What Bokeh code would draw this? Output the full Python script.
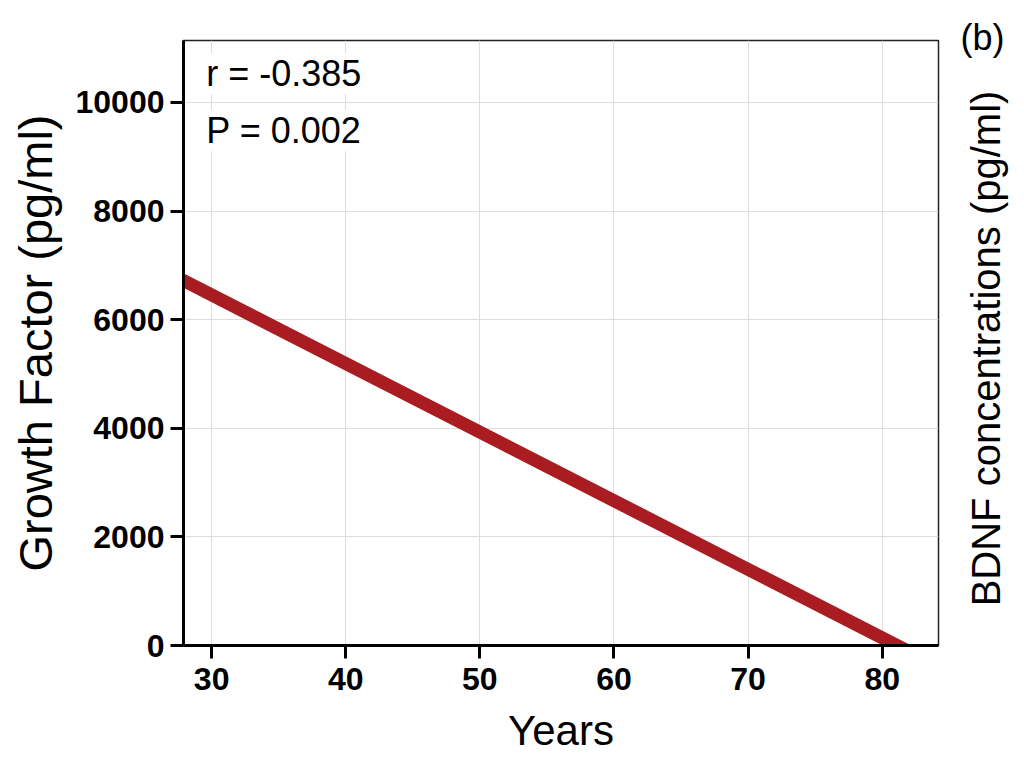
import math
from bokeh.plotting import figure
from bokeh.layouts import row
from bokeh.models import FixedTicker, Label, Range1d, Title
from bokeh.embed import file_html
from bokeh.resources import INLINE

# ---- data ----
line_years = [26.0, 84.0]          # regression line end points (clipped by the axes)
line_bdnf = [6960, -365]
x_ticks = [30, 40, 50, 60, 70, 80]
y_ticks = [0, 2000, 4000, 6000, 8000, 10000]
stat_r = "r = -0.385"
stat_p = "P = 0.002"
stat_x = 29.6
stat_r_y = 10530
stat_p_y = 9480
panel_tag = "(b)"
x_title = "Years"
y_title = "Growth Factor (pg/ml)"
y2_title = "BDNF concentrations (pg/ml)"

FONT = "Liberation Sans"
H = 762
W1 = 942
FRAME_TOP = 40
FRAME_BOTTOM = 645

p = figure(width=W1, height=H, output_backend="svg", toolbar_location=None,
           x_range=Range1d(27.9, 84.2), y_range=Range1d(0, 11140),
           min_border_left=183, min_border_right=W1 - 938,
           min_border_top=FRAME_TOP, min_border_bottom=H - FRAME_BOTTOM)
p.background_fill_color = "white"
p.border_fill_color = "white"
p.outline_line_color = "#222222"
p.outline_line_width = 1.5

# grid
p.xgrid.ticker = FixedTicker(ticks=x_ticks)
p.ygrid.ticker = FixedTicker(ticks=y_ticks)
for g in (p.xgrid, p.ygrid):
    g.grid_line_color = "#DDDDDD"
    g.grid_line_width = 1

# axes
for ax in (p.xaxis, p.yaxis):
    ax.axis_line_width = 3
    ax.axis_line_color = "black"
    ax.major_tick_line_width = 3
    ax.major_tick_line_color = "black"
    ax.major_tick_out = 13
    ax.major_tick_in = 0
    ax.minor_tick_line_color = None
    ax.major_label_text_font = FONT
    ax.major_label_text_font_style = "bold"
    ax.major_label_text_font_size = "32px"
    ax.major_label_text_color = "black"
    ax.axis_label_text_font = FONT
    ax.axis_label_text_font_style = "normal"
    ax.axis_label_text_color = "black"

p.xaxis.ticker = FixedTicker(ticks=x_ticks)
p.yaxis.ticker = FixedTicker(ticks=y_ticks)
p.xaxis.major_label_standoff = 9
p.yaxis.major_label_standoff = 6
p.xaxis.axis_label = x_title
p.xaxis.axis_label_text_font_size = "42px"
p.xaxis.axis_label_standoff = 14
p.yaxis.axis_label = y_title
p.yaxis.axis_label_text_font_size = "47px"
p.yaxis.axis_label_standoff = 11

# regression line
p.line(line_years, line_bdnf, line_color="#A81C22", line_width=13, line_cap="butt")

# statistics text
for txt, yy in ((stat_r, stat_r_y), (stat_p, stat_p_y)):
    p.add_layout(Label(x=stat_x, y=yy, text=txt,
                       text_font=FONT, text_font_size="36px", text_color="black",
                       text_align="left", text_baseline="middle",
                       background_fill_color="white", background_fill_alpha=1.0))

# right-hand column: panel tag (as a title) and secondary y title
W2 = 80
p2 = figure(width=W2, height=H, output_backend="svg", toolbar_location=None,
            x_axis_type=None, y_axis_type=None,
            min_border_left=2, min_border_right=2,
            min_border_top=FRAME_TOP, min_border_bottom=H - FRAME_BOTTOM,
            x_range=Range1d(0, 1), y_range=Range1d(0, 1))
p2.outline_line_color = None
p2.background_fill_color = "white"
p2.border_fill_color = "white"
p2.xgrid.visible = False
p2.ygrid.visible = False

p2.add_layout(Title(text=panel_tag, align="center", text_font=FONT,
                    text_font_size="36px", text_font_style="normal",
                    text_color="black", standoff=-34), "above")
p2.add_layout(Label(x=41, y=FRAME_BOTTOM - 348, x_units="screen", y_units="screen", text=y2_title,
                    angle=math.pi / 2, text_font=FONT, text_font_size="40px",
                    text_color="black", text_align="center", text_baseline="middle"))

layout = row(p, p2, spacing=0)
open("out.html", "w").write(file_html(layout, INLINE))
